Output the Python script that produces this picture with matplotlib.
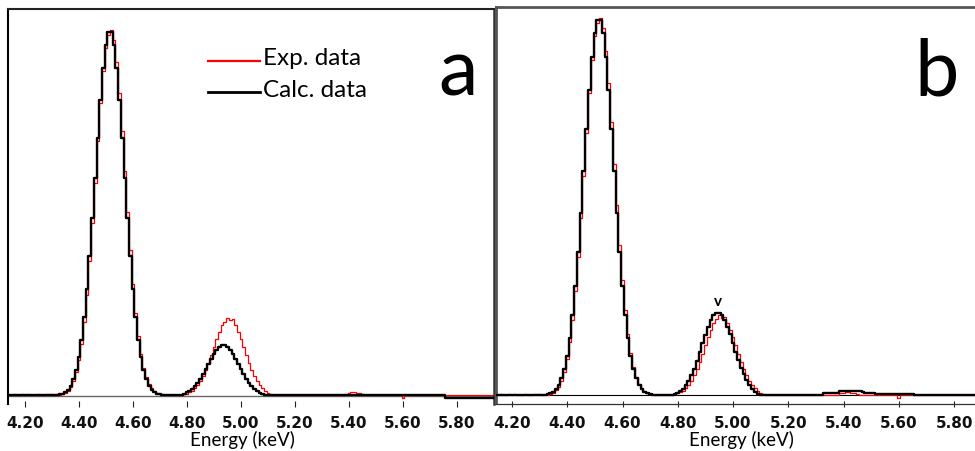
import numpy as np
import matplotlib
matplotlib.use('Agg')
import matplotlib.pyplot as plt
from matplotlib.lines import Line2D
from matplotlib import font_manager as fm

# ---------------- data (counts in % of main peak) ----
E0 = 4.13                      # first channel centre (keV)
ch_w = 0.01                    # channel width (keV)
n_ch = 183                     # channels 4.13 .. 5.95

exp_low_start = 4.16
exp_low = [0.3, 0.0, 0.0, 0.2, 0.0, 0.3, 0.0, 0.0, 0.0, 0.2, 0.0, 0.0, 0.3, 0.2]

exp_main_start = 4.30
exp_main = [0.2, 0.0, 0.3, 0.1, 0.3, 0.6, 1.2, 2.2, 3.8, 6.2, 9.5, 14.0, 20.0,
            27.6, 36.7, 47.2, 58.3, 69.8, 80.2, 89.0, 95.4, 99.0, 100.2, 97.5,
            91.4, 83.0, 72.6, 61.5, 50.4, 39.8, 30.6, 22.6, 16.2, 11.2, 7.5,
            4.9, 3.0, 1.8, 1.0, 0.6, 0.3, 0.2, 0.1]

exp_kb_start = 4.79
exp_kb = [0.2, 0.4, 0.7, 1.1, 1.8, 2.7, 3.85, 5.2, 6.9, 8.8, 11.0, 13.2, 15.4,
          17.4, 19.1, 20.1, 21.2, 20.5, 20.8, 19.1, 17.4, 15.4, 13.2, 11.0, 8.8,
          6.9, 5.2, 3.85, 2.7, 1.8, 1.1, 0.6, 0.3, 0.1]

exp_minor_start = 5.39
exp_minor = [0.4, 0.6, 0.7, 0.7, 0.6, 0.5, 0.3]

exp_dip_start = 5.60
exp_dip = [-0.8]

calc_main_start = 4.33
calc_main = [0.2, 0.4, 0.8, 1.5, 2.6, 4.4, 6.9, 10.4, 15.1, 21.3, 29.0, 38.1,
             48.5, 59.5, 70.7, 81.1, 89.8, 96.2, 99.6, 99.6, 96.2, 89.8, 81.1,
             70.7, 59.5, 48.5, 38.1, 29.0, 21.3, 15.1, 10.4, 6.9, 4.4, 2.6, 1.5,
             0.8, 0.4, 0.2]

calc_a_kb_start = 4.79
calc_a_kb = [0.3, 0.7, 1.1, 1.7, 2.5, 3.4, 4.5, 5.75, 7.15, 8.6, 10.0, 11.35,
             12.4, 13.2, 13.65, 13.65, 13.2, 12.4, 11.35, 10.0, 8.6, 7.15, 5.75,
             4.5, 3.4, 2.5, 1.7, 1.1, 0.6, 0.3, 0.1]
calc_a_step_at = 5.755         # calc. baseline steps down here (panel a)
calc_a_step_level = -0.7

calc_b_kb_start = 4.79
calc_b_kb = [0.3, 0.6, 1.0, 1.7, 2.6, 3.8, 5.3, 7.0, 9.1, 11.4, 13.7, 16.0,
             18.1, 20.0, 21.25, 21.9, 21.9, 21.25, 20.0, 18.2, 16.1, 13.8, 11.5,
             9.25, 7.2, 5.5, 4.0, 2.6, 1.5, 0.7, 0.3, 0.1]

calc_b_minor_start = 5.33
calc_b_minor = [0.4, 0.4, 0.5, 0.5, 0.5, 0.6, 1.0, 1.0, 1.1, 1.1, 1.1, 1.0, 1.0,
                1.0, 0.9, 0.5, 0.4, 0.4, 0.4, 0.3, 0.2, 0.2, 0.2, 0.2, 0.2, 0.2,
                0.2, 0.2, 0.2, 0.2, 0.2, 0.2, 0.2]

tick_values = [4.20, 4.40, 4.60, 4.80, 5.00, 5.20, 5.40, 5.60, 5.80]
tick_labels = ['4.20', '4.40', '4.60', '4.80', '5.00', '5.20', '5.40', '5.60', '5.80']
legend_labels = ['Exp. data', 'Calc. data']
panel_letters = ['a', 'b']
x_label = 'Energy (keV)'
peak_label = 'v'
peak_label_energy = 4.945
peak_label_value = 24.0

# ---------------- build spectra ------------------------------------------
energy = np.round(E0 + ch_w * np.arange(n_ch), 2)

def build(segments):
    y = np.zeros(n_ch)
    for start, vals in segments:
        i = int(round((start - E0) / ch_w))
        y[i:i + len(vals)] = vals
    return y

exp_y = build([(exp_low_start, exp_low), (exp_main_start, exp_main),
               (exp_kb_start, exp_kb), (exp_minor_start, exp_minor),
               (exp_dip_start, exp_dip)])
calc_a_y = build([(calc_main_start, calc_main), (calc_a_kb_start, calc_a_kb)])
calc_a_y[energy > calc_a_step_at] = calc_a_step_level
calc_b_y = build([(calc_main_start, calc_main), (calc_b_kb_start, calc_b_kb),
                  (calc_b_minor_start, calc_b_minor)])

# ---------------- fonts ----------------------------------------------------
avail = {f.name for f in fm.fontManager.ttflist}
tick_font = 'Liberation Sans Narrow' if 'Liberation Sans Narrow' in avail else 'DejaVu Sans'
text_font = 'Lato' if 'Lato' in avail else 'DejaVu Sans'

# ---------------- figure ---------------------------------------------------
W, H = 975, 452
fig = plt.figure(figsize=(W / 100, H / 100), dpi=100)

def px_axes(l, t, r, b):
    return fig.add_axes([l / W, 1 - b / H, (r - l) / W, (b - t) / H])

ax_a = px_axes(8, 10, 494, 404.5)
ax_b = px_axes(496, 8, 982, 404.5)

for ax, calc_y, xlim, ylim in [
        (ax_a, calc_a_y, (4.137, 5.937), (-2.335, 106.04)),
        (ax_b, calc_b_y, (4.142, 5.901), (-2.26, 103.19))]:
    ax.step(energy, exp_y, where='mid', color='#ff0000', lw=0.9, zorder=2)
    ax.step(energy, calc_y, where='mid', color='black', lw=1.7, zorder=3)
    ax.set_xlim(*xlim)
    ax.set_ylim(*ylim)
    ax.set_yticks([])
    ax.set_xticks(tick_values)
    ax.set_xticklabels(tick_labels)
    ax.tick_params(axis='x', direction='inout', length=4, width=0.8,
                   color='#222222', pad=6)
    for lab in ax.get_xticklabels():
        lab.set_fontfamily(tick_font)
        lab.set_fontweight('bold')
        lab.set_fontsize(11)
        lab.set_color('#111111')

# panel a spines
ax_a.spines['bottom'].set_visible(False)
ax_a.axhline(-0.27, color='#666666', lw=1.0, zorder=1)
ax_a.spines['left'].set_color('black'); ax_a.spines['left'].set_linewidth(1.5)
ax_a.spines['top'].set_color('#222222'); ax_a.spines['top'].set_linewidth(1.5)
ax_a.spines['right'].set_color('#333333'); ax_a.spines['right'].set_linewidth(1.8)

# panel b spines
ax_b.axhline(0, color='black', lw=0.8, zorder=1)
ax_b.spines['bottom'].set_color('#333333'); ax_b.spines['bottom'].set_linewidth(0.9)
ax_b.spines['left'].set_color('#555555'); ax_b.spines['left'].set_linewidth(2.0)
ax_b.spines['top'].set_color('#555555'); ax_b.spines['top'].set_linewidth(2.0)

ax_b.text(peak_label_energy, peak_label_value, peak_label, ha='center',
          va='baseline', fontsize=11, family=text_font, fontweight='bold',
          color='black')

def fpx(x, y):
    return x / W, 1 - y / H

# x labels
for xc in (242.5, 741):
    fig.text(*fpx(xc, 446), x_label, ha='center', va='baseline',
             fontsize=13.5, family=text_font, color='black')

# panel letters
fig.text(*fpx(458, 95), panel_letters[0], ha='center', va='baseline',
         fontsize=57, family=text_font, color='black')
fig.text(*fpx(937, 95), panel_letters[1], ha='center', va='baseline',
         fontsize=57, family=text_font, color='black')

# legend
for (ly, ty), col, lw, lab in [((62, 65), '#ff0000', 1.6, legend_labels[0]),
                               ((93, 97), 'black', 2.0, legend_labels[1])]:
    x0, y0 = fpx(208, ly)
    x1, _ = fpx(260, ly)
    fig.add_artist(Line2D([x0, x1], [y0, y0], color=col, lw=lw))
    fig.text(*fpx(263, ty), lab, ha='left', va='baseline', fontsize=17.5,
             family=text_font, color='black')

fig.savefig('out.png', dpi=100)
